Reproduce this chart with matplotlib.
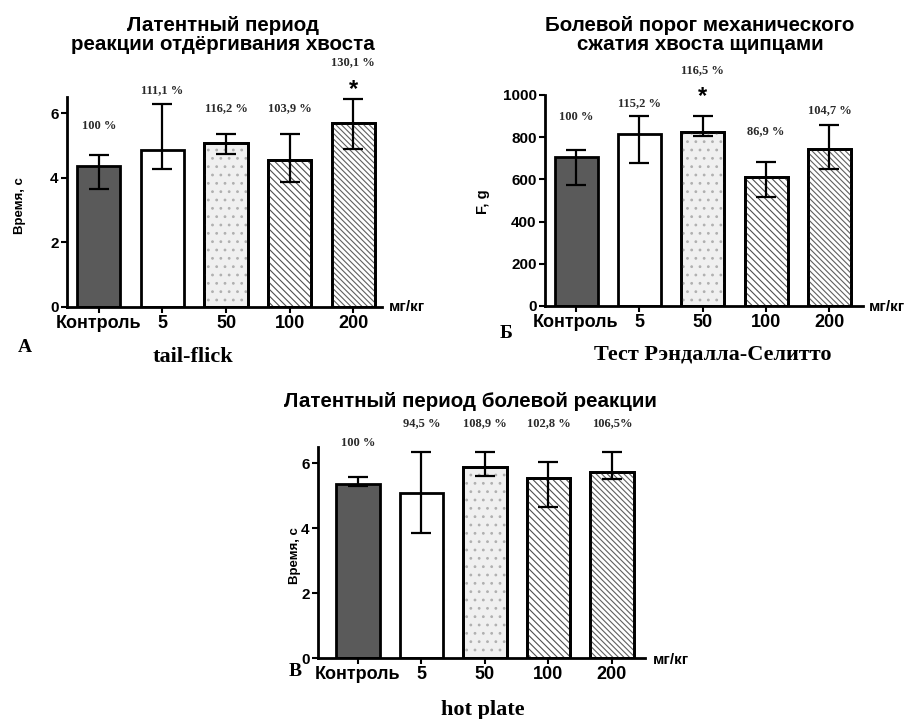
import numpy as np
import matplotlib.pyplot as plt

# doses and group labels
groups = ["Контроль", "5", "50", "100", "200"]

# tail-flick, latency (s)
tf_mean = [4.35, 4.86, 5.08, 4.55, 5.68]
tf_hi = [4.72, 6.27, 5.34, 5.37, 6.43]
tf_lo = [3.64, 4.27, 4.73, 3.86, 4.88]
tf_pct = ["100 %", "111,1 %", "116,2 %", "103,9 %", "130,1 %"]

# Randall-Selitto, force (g)
rs_mean = [707, 813, 823, 613, 743]
rs_hi = [739, 902, 900, 681, 858]
rs_lo = [573, 676, 806, 515, 648]
rs_pct = ["100 %", "115,2 %", "116,5 %", "86,9 %", "104,7 %"]

# hot plate, latency (s)
hp_mean = [5.37, 5.09, 5.87, 5.53, 5.74]
hp_hi = [5.57, 6.35, 6.35, 6.04, 6.35]
hp_lo = [5.30, 3.85, 5.60, 4.66, 5.50]
hp_pct = ["100 %", "94,5 %", "108,9 %", "102,8 %", "106,5%"]

W, H = 911, 719
fig = plt.figure(figsize=(W / 100, H / 100), dpi=100)
plt.rcParams["hatch.linewidth"] = 0.8

SANS = "Liberation Sans"
SERIF = "Liberation Serif"

fills = ["#5a5a5a", "white", "#f0f0f0", "white", "white"]
hatches = [None, None, "..", "\\" * 5, "\\" * 6]
hatch_cols = [None, None, "#b0b0b0", "#505050", "#606060"]


def px(x, y):
    return x / W, 1 - y / H


def panel(box, mean, hi, lo, ylim, yticks, xlim):
    l, t = px(box[0], box[1])
    r, b = px(box[2], box[3])
    ax = fig.add_axes([l, b, r - l, t - b])
    x = np.arange(len(mean))
    for i in x:
        ax.bar(i, mean[i], width=0.68, color=fills[i], edgecolor="black",
               linewidth=2, zorder=2)
        if hatches[i]:
            # hatch in its own colour, outline redrawn on top in black
            ax.bar(i, mean[i], width=0.68, color="none", edgecolor=hatch_cols[i],
                   linewidth=0, hatch=hatches[i], zorder=2)
            ax.bar(i, mean[i], width=0.68, color="none", edgecolor="black",
                   linewidth=2, zorder=3)
    yerr = [np.array(mean) - np.array(lo), np.array(hi) - np.array(mean)]
    ax.errorbar(x, mean, yerr=yerr, fmt="none", ecolor="black", elinewidth=1.6,
                capsize=7, capthick=1.6, zorder=4)
    ax.set_xlim(*xlim)
    ax.set_ylim(*ylim)
    ax.set_yticks(yticks)
    ax.set_xticks(x)
    ax.set_xticklabels(groups)
    for s in ["top", "right"]:
        ax.spines[s].set_visible(False)
    for s in ["left", "bottom"]:
        ax.spines[s].set_linewidth(2)
    ax.tick_params(axis="both", width=1.5, length=4, pad=2)
    for lab in ax.get_xticklabels():
        lab.set_fontfamily(SANS)
        lab.set_fontweight("bold")
        lab.set_fontsize(13)
    for lab in ax.get_yticklabels():
        lab.set_fontfamily(SANS)
        lab.set_fontweight("bold")
        lab.set_fontsize(11)
    return ax


def pct_labels(ax, labels, ys):
    for i, (s, y) in enumerate(zip(labels, ys)):
        ax.text(i, y, s, ha="center", va="center", family=SERIF,
                fontweight="bold", fontsize=9, color="#2a2a2a")


def ftext(x, y, s, **kw):
    fig.text(*px(x, y), s, ha="center", va="center", **kw)


# A: tail-flick
axA = panel((67, 97, 382, 307), tf_mean, tf_hi, tf_lo, (0, 6.5), [0, 2, 4, 6], (-0.5, 4.45))
pct_labels(axA, tf_pct, [5.6, 6.71, 6.15, 6.15, 7.58])
axA.text(4, 6.72, "*", ha="center", va="center", family=SANS, fontweight="bold", fontsize=17)
ftext(223, 35, "Латентный период\nреакции отдёргивания хвоста", family=SANS,
      fontweight="bold", fontsize=14.8, linespacing=1.05)
ftext(20, 206, "Время, с", rotation=90, family=SANS, fontweight="bold", fontsize=9.5)
ftext(407, 307, "мг/кг", family=SANS, fontweight="bold", fontsize=11)
ftext(25, 347, "А", family=SERIF, fontweight="bold", fontsize=14)
ftext(193, 357, "tail-flick", family=SERIF, fontweight="bold", fontsize=16)

# Б: Randall-Selitto
axB = panel((545, 95, 863, 306), rs_mean, rs_hi, rs_lo, (0, 1000),
            [0, 200, 400, 600, 800, 1000], (-0.49, 4.53))
pct_labels(axB, rs_pct, [896, 962, 1118, 829, 929])
axB.text(2, 995, "*", ha="center", va="center", family=SANS, fontweight="bold", fontsize=17)
ftext(700, 35, "Болевой порог механического\nсжатия хвоста щипцами", family=SANS,
      fontweight="bold", fontsize=14.8, linespacing=1.05)
ftext(483, 202, "F, g", rotation=90, family=SANS, fontweight="bold", fontsize=10.5)
ftext(887, 307, "мг/кг", family=SANS, fontweight="bold", fontsize=11)
ftext(506, 333, "Б", family=SERIF, fontweight="bold", fontsize=14)
ftext(713, 355, "Тест Рэндалла-Селитто", family=SERIF, fontweight="bold", fontsize=16)

# В: hot plate
axC = panel((318, 447, 645, 658), hp_mean, hp_hi, hp_lo, (0, 6.5), [0, 2, 4, 6], (-0.63, 4.52))
pct_labels(axC, hp_pct, [6.62, 7.23, 7.23, 7.23, 7.23])
ftext(470, 402, "Латентный период болевой реакции", family=SANS,
      fontweight="bold", fontsize=14.8)
ftext(295, 556, "Время, с", rotation=90, family=SANS, fontweight="bold", fontsize=9.5)
ftext(671, 660, "мг/кг", family=SANS, fontweight="bold", fontsize=11)
ftext(295, 672, "В", family=SERIF, fontweight="bold", fontsize=14)
ftext(483, 710, "hot plate", family=SERIF, fontweight="bold", fontsize=16)

fig.savefig("out.png", dpi=100)
